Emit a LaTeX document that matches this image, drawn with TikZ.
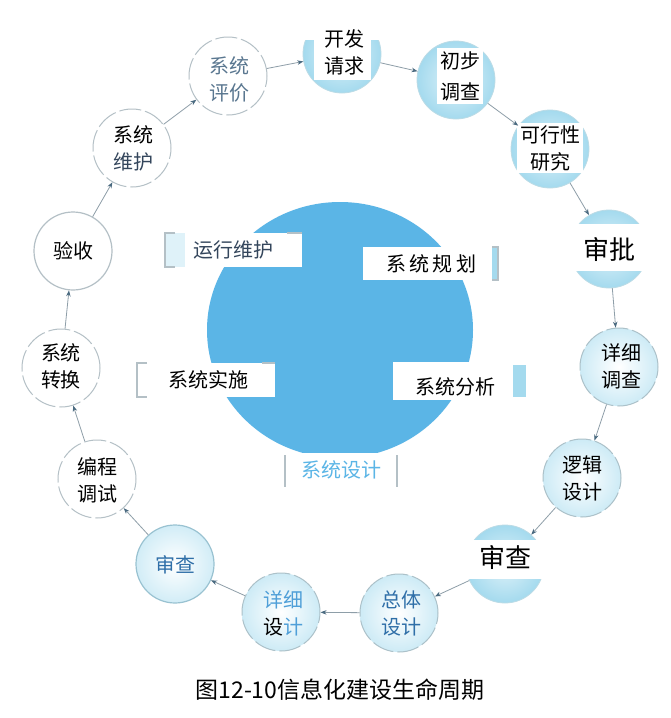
\documentclass[tikz,border=0pt]{standalone}
\usepackage{fontspec}
\newfontfamily\cjk{Noto Sans CJK SC}
\usetikzlibrary{arrows.meta}
\definecolor{bigblue}{HTML}{5BB5E6}
\definecolor{capblue}{HTML}{A4DAEE}
\definecolor{capline}{HTML}{8EC3D6}
\definecolor{ringgray}{HTML}{B4C0C6}
\definecolor{arrline}{HTML}{8E9EA8}
\definecolor{arrhead}{HTML}{4A6A80}
\definecolor{slateblue}{HTML}{5A7790}
\definecolor{midblue}{HTML}{2F6FA8}
\definecolor{litblue}{HTML}{4F9FD8}
\definecolor{darkslate}{HTML}{34465C}
\begin{document}
\begin{tikzpicture}[x=1pt,y=-1pt,font=\cjk,
  ring/.style={circle,minimum size=78pt,inner sep=0pt},
  plainring/.style={ring,draw=ringgray,line width=1pt,dash pattern=on 22pt off 4pt,fill=white},
  paleing/.style={ring,draw=ringgray!80!capline,line width=1pt,dash pattern=on 22pt off 4pt,inner color=white,outer color=capblue!55},
  bluering/.style={ring,draw=capline!60,line width=0.8pt,inner color=capblue!35,outer color=capblue},
  txt/.style={align=center,inner sep=1pt,font=\cjk\fontsize{20}{27}\selectfont},
  bigtxt/.style={align=center,inner sep=1pt,font=\cjk\fontsize{26}{30}\selectfont},
  wtxt/.style={txt,fill=white},
  arr/.style={draw=arrline,line width=0.8pt,-{Stealth[length=6pt,width=4.5pt,color=arrhead]}},
  lab/.style={font=\cjk\fontsize{20}{24}\selectfont,inner sep=0pt},
  brk/.style={draw=ringgray,line width=1.2pt}
]
\useasboundingbox[fill=white] (0,0) rectangle (671,718);

% central disc
\fill[bigblue] (340,330) ellipse [x radius=133, y radius=128];

% central labels
\fill[white] (165,233) rectangle (302,267);
\fill[capblue!35] (165,233) rectangle (185,267);
\draw[brk] (175,233) -- (165,233) -- (165,267) -- (175,267);
\draw[brk] (287,233) -- (302,233);
\node[lab,text=darkslate] (lOper) at (233,250) {运行维护};

\fill[white] (363,247) rectangle (492,280);
\fill[capblue] (492,247) rectangle (498,280);
\draw[brk] (492,247) -- (498,247) -- (498,280) -- (492,280);
\node[lab] (lPlan) at (431,264) {系\,统\,规\,划};

\fill[white] (137,363) rectangle (275,397);
\draw[brk] (147,363) -- (137,363) -- (137,397) -- (147,397);
\draw[brk] (262,363) -- (275,363);
\node[lab] (lImpl) at (208,380) {系统实施};

\fill[white] (393,362) rectangle (510,400);
\fill[capblue] (513,365) rectangle (526,397);
\node[lab] (lAna) at (455,387) {系统分析};

\fill[white] (285,453) rectangle (397,487);
\draw[brk] (285,455) -- (285,487);
\draw[brk] (397,455) -- (397,487);
\node[lab,text=bigblue] (lDes) at (341,470) {系统设计};

% ring nodes
\node[plainring] (eval) at (228,76) {};
\node[bluering] (req) at (342,54) {};
\node[bluering] (prelim) at (456,80) {};
\node[bluering] (feas) at (550,149) {};
\node[bluering] (appr) at (609,249) {};
\node[paleing] (detinv) at (619,367) {};
\node[paleing] (logic) at (582,478) {};
\node[bluering] (rev1) at (505,564) {};
\node[paleing] (overall) at (399,613) {};
\node[paleing] (detdes) at (281,612) {};
\node[ring,draw=capline!70!ringgray,line width=1.2pt,inner color=white,outer color=capblue!50] (rev2) at (175,564) {};
\node[plainring] (prog) at (97,479) {};
\node[plainring] (conv) at (61,368) {};
\node[ring,draw=ringgray,line width=1.2pt,fill=white] (accept) at (73,251) {};
\node[plainring] (maint) at (132,148) {};

% white bands
\fill[white] (290,10) rectangle (395,40);
\fill[white] (314,10) rectangle (371,80);
\fill[white] (558,224) rectangle (672,271);
\fill[white] (455,540) rectangle (560,579);

% texts
\node[txt,text=slateblue] (evalT) at (229,79) {系统\\评价};
\node[txt] (reqT) at (344,52) {开发\\请求};
\node[wtxt,inner xsep=3pt,inner ysep=3pt,font=\cjk\fontsize{20}{31}\selectfont] (prelimT) at (460,76) {初步\\调查};
\node[wtxt,inner xsep=3pt,inner ysep=2pt] (feasT) at (550,148) {可行性\\研究};
\node[bigtxt] (apprT) at (609,249) {审批};
\node[txt] (detinvT) at (621,366) {详细\\调查};
\node[txt] (logicT) at (582,478) {逻辑\\设计};
\node[bigtxt] (rev1T) at (505,557) {审查};
\node[txt,text=midblue] (overallT) at (401,613) {总体\\设计};
\node[txt,text=litblue] (detdesT) at (283,613) {详细\\\textcolor{black}{设}计};
\node[txt,text=midblue] (rev2T) at (175,565) {审查};
\node[txt] (progT) at (97,480) {编程\\调试};
\node[txt] (convT) at (61,366) {系统\\转换};
\node[txt] (acceptT) at (73,251) {验收};
\node[txt] (maintT) at (133,148) {系统\\\textcolor{darkslate}{维护}};

% arrows
\draw[arr] (eval) -- (req);
\draw[arr] (req) -- (prelim);
\draw[arr] (prelim) -- (feas);
\draw[arr] (feas) -- (appr);
\draw[arr] (appr) -- (detinv);
\draw[arr] (detinv) -- (logic);
\draw[arr] (logic) -- (rev1);
\draw[arr] (rev1) -- (overall);
\draw[arr] (overall) -- (detdes);
\draw[arr] (detdes) -- (rev2);
\draw[arr] (rev2) -- (prog);
\draw[arr] (prog) -- (conv);
\draw[arr] (conv) -- (accept);
\draw[arr] (accept) -- (maint);
\draw[arr] (maint) -- (eval);

% caption
\node[font=\cjk\fontsize{23}{26}\selectfont,inner sep=0pt] (cap) at (340,690) {图12-10信息化建设生命周期};
\end{tikzpicture}
\end{document}
